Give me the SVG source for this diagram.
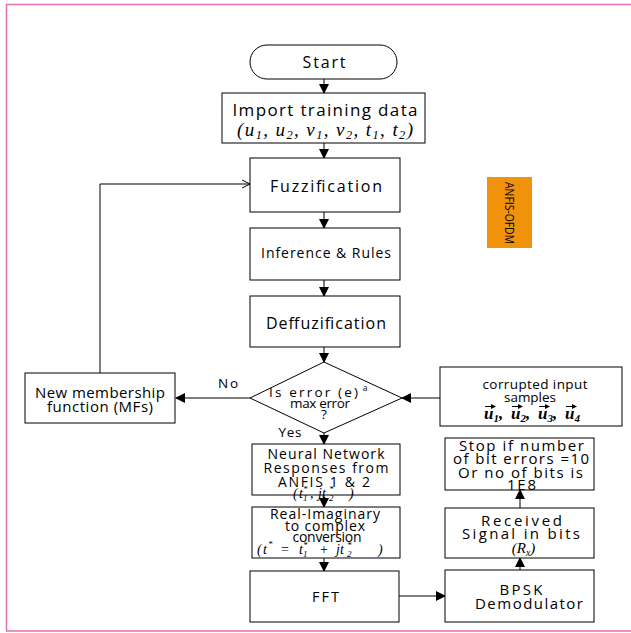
<svg xmlns="http://www.w3.org/2000/svg" width="631" height="633" viewBox="0 0 631 633">
<style>
.box{fill:#fff;stroke:#000;stroke-width:1}
.t{font-family:"Open Sans","Noto Sans",sans-serif;fill:#000;text-anchor:middle}
.m{font-family:"Liberation Serif",serif;font-style:italic;fill:#000;text-anchor:middle}
.ms{font-family:"Liberation Serif",serif;font-style:italic;fill:#000;text-anchor:start}
.s{font-size:65%}
.ln{fill:none;stroke:#000;stroke-width:1}
</style>
<defs>
<marker id="ah" markerWidth="10" markerHeight="10" refX="9" refY="5" orient="auto" markerUnits="userSpaceOnUse">
<path d="M0,0 L10,5 L0,10 z" fill="#000"/>
</marker>
<marker id="oh" markerWidth="10" markerHeight="10" refX="9" refY="5" orient="auto" markerUnits="userSpaceOnUse">
<path d="M1,1 L9,5 L1,9" fill="none" stroke="#000" stroke-width="1"/>
</marker>
<marker id="va" markerWidth="5" markerHeight="5" refX="4" refY="2.5" orient="auto" markerUnits="userSpaceOnUse">
<path d="M0,0 L5,2.5 L0,5 z" fill="#000"/>
</marker>
</defs>
<rect width="631" height="633" fill="#fff"/>
<path d="M631,4.5 H6.5 V631 H631" fill="none" stroke="#e070b0" stroke-width="1.5"/>

<g id="connectors">
<line class="ln" x1="324" y1="79" x2="324" y2="93" marker-end="url(#ah)"/>
<line class="ln" x1="324" y1="143" x2="324" y2="158" marker-end="url(#ah)"/>
<line class="ln" x1="324" y1="212" x2="324" y2="228" marker-end="url(#ah)"/>
<line class="ln" x1="324" y1="280" x2="324" y2="296" marker-end="url(#ah)"/>
<line class="ln" x1="324" y1="347" x2="324" y2="362" marker-end="url(#ah)"/>
<line class="ln" x1="250" y1="398" x2="176" y2="398" marker-end="url(#ah)"/>
<polyline class="ln" points="100,373 100,184 250,184" marker-end="url(#oh)"/>
<line class="ln" x1="440" y1="398" x2="402" y2="398" marker-end="url(#ah)"/>
<line class="ln" x1="324" y1="433" x2="324" y2="444" marker-end="url(#ah)"/>
<line class="ln" x1="324" y1="495" x2="324" y2="507" marker-end="url(#ah)"/>
<line class="ln" x1="324" y1="558" x2="324" y2="571" marker-end="url(#ah)"/>
<line class="ln" x1="399" y1="596" x2="445" y2="596" marker-end="url(#ah)"/>
<line class="ln" x1="520" y1="570" x2="520" y2="558" marker-end="url(#ah)"/>
<line class="ln" x1="520" y1="508" x2="520" y2="490" marker-end="url(#ah)"/>
</g>

<g id="start">
<rect class="box" x="250" y="45" width="147" height="34" rx="17"/>
<text class="t" x="324" y="68" font-size="16" textLength="43" lengthAdjust="spacing">Start</text>
</g>
<g id="import">
<rect class="box" x="222" y="93" width="203" height="50"/>
<text class="t" x="325" y="116" font-size="17" textLength="185" lengthAdjust="spacing">Import training data</text>
<text class="m" x="325" y="136" font-size="19" textLength="176" lengthAdjust="spacing">(u<tspan class="s" dy="3">1</tspan><tspan dy="-3">, u</tspan><tspan class="s" dy="3">2</tspan><tspan dy="-3">, v</tspan><tspan class="s" dy="3">1</tspan><tspan dy="-3">, v</tspan><tspan class="s" dy="3">2</tspan><tspan dy="-3">, t</tspan><tspan class="s" dy="3">1</tspan><tspan dy="-3">, t</tspan><tspan class="s" dy="3">2</tspan><tspan dy="-3">)</tspan></text>
</g>
<g id="fuzz">
<rect class="box" x="250" y="158" width="150" height="54"/>
<text class="t" x="326" y="191.5" font-size="16" textLength="112" lengthAdjust="spacing">Fuzzification</text>
</g>
<g id="infer">
<rect class="box" x="250" y="228" width="150" height="52"/>
<text class="t" x="326" y="258" font-size="14" textLength="130" lengthAdjust="spacing">Inference &amp; Rules</text>
</g>
<g id="defuzz">
<rect class="box" x="250" y="296" width="150" height="51"/>
<text class="t" x="326" y="328.5" font-size="16" textLength="120" lengthAdjust="spacing">Deffuzification</text>
</g>
<g id="anfis">
<rect x="487" y="177" width="45" height="71" fill="#f0920c"/>
<text class="t" transform="translate(505,213) rotate(90)" x="0" y="0" font-size="13.5" textLength="62" lengthAdjust="spacingAndGlyphs">ANFIS-OFDM</text>
</g>
<g id="decision">
<polygon class="box" points="324,362 402,398 324,433 250,398"/>
<text class="t" x="313.5" y="397" font-size="13.5" textLength="89" lengthAdjust="spacing">Is error (e)</text>
<text class="t" x="365" y="391" font-size="8.5">a</text>
<text class="t" x="320" y="408" font-size="13.5" textLength="60" lengthAdjust="spacing">max error</text>
<text class="t" x="324" y="419" font-size="13.5">?</text>
</g>
<g id="labels">
<text class="t" x="290" y="437" font-size="13.5" textLength="23" lengthAdjust="spacing">Yes</text>
<text class="t" x="228" y="388" font-size="13.5" textLength="20" lengthAdjust="spacing">No</text>
</g>
<g id="newmf">
<rect class="box" x="25" y="373" width="150" height="50"/>
<text class="t" x="100" y="397.5" font-size="15" textLength="130" lengthAdjust="spacing">New membership</text>
<text class="t" x="100" y="411.5" font-size="15" textLength="106" lengthAdjust="spacing">function (MFs)</text>
</g>
<g id="corrupt">
<rect class="box" x="440" y="367" width="182" height="59"/>
<text class="t" x="535" y="389" font-size="13.5" textLength="105" lengthAdjust="spacing">corrupted input</text>
<text class="t" x="530" y="402" font-size="13.5" textLength="52" lengthAdjust="spacing">samples</text>
<text class="ms" font-size="17" font-weight="bold"><tspan x="484" y="419">u</tspan><tspan class="s" dy="3">1</tspan><tspan dy="-3">,</tspan><tspan x="511" y="419">u</tspan><tspan class="s" dy="3">2</tspan><tspan dy="-3">,</tspan><tspan x="538" y="419">u</tspan><tspan class="s" dy="3">3</tspan><tspan dy="-3">,</tspan><tspan x="565" y="419">u</tspan><tspan class="s" dy="3">4</tspan></text>
<line class="ln" x1="485" y1="406.5" x2="495" y2="406.5" marker-end="url(#va)"/>
<line class="ln" x1="512" y1="406.5" x2="522" y2="406.5" marker-end="url(#va)"/>
<line class="ln" x1="539" y1="406.5" x2="549" y2="406.5" marker-end="url(#va)"/>
<line class="ln" x1="566" y1="406.5" x2="576" y2="406.5" marker-end="url(#va)"/>
</g>
<g id="neural">
<rect class="box" x="252" y="444" width="148" height="51"/>
<text class="t" x="326" y="459" font-size="14" textLength="117" lengthAdjust="spacing">Neural Network</text>
<text class="t" x="326" y="473" font-size="14" textLength="125" lengthAdjust="spacing">Responses from</text>
<text class="t" x="324" y="487" font-size="14" textLength="92" lengthAdjust="spacing">ANFIS 1 &amp; 2</text>
<text class="ms" font-size="14"><tspan x="293" y="498">(</tspan><tspan x="299" y="498">t</tspan><tspan x="303" y="501" font-size="9">1</tspan><tspan x="303" y="492" font-size="9">*</tspan><tspan x="310" y="498">,</tspan><tspan x="318" y="498">jt</tspan><tspan x="329" y="501" font-size="9">2</tspan><tspan x="329" y="492" font-size="9">*</tspan><tspan x="349" y="498">)</tspan></text>
</g>
<g id="realimag">
<rect class="box" x="252" y="507" width="148" height="51"/>
<text class="t" x="325" y="519" font-size="14" textLength="110" lengthAdjust="spacing">Real-Imaginary</text>
<text class="t" x="325" y="531" font-size="14" textLength="80" lengthAdjust="spacing">to complex</text>
<text class="t" x="327" y="541.5" font-size="14" textLength="69" lengthAdjust="spacing">conversion</text>
<text class="ms" font-size="14"><tspan x="257" y="554">(</tspan><tspan x="263" y="554">t</tspan><tspan x="268" y="547" font-size="9">*</tspan><tspan x="281" y="554" font-style="normal">=</tspan><tspan x="299" y="554">t</tspan><tspan x="303" y="557" font-size="9">1</tspan><tspan x="303" y="548" font-size="9">*</tspan><tspan x="320" y="554" font-style="normal">+</tspan><tspan x="336" y="554">jt</tspan><tspan x="347" y="557" font-size="9">2</tspan><tspan x="347" y="548" font-size="9">*</tspan><tspan x="378" y="554">)</tspan></text>
</g>
<g id="fft">
<rect class="box" x="250" y="571" width="149" height="51"/>
<text class="t" x="325.5" y="601.5" font-size="14.5" textLength="27" lengthAdjust="spacing">FFT</text>
</g>
<g id="bpsk">
<rect class="box" x="445" y="570" width="149" height="52"/>
<text class="t" x="521" y="594.5" font-size="15" textLength="43" lengthAdjust="spacing">BPSK</text>
<text class="t" x="529" y="608.5" font-size="15" textLength="108" lengthAdjust="spacing">Demodulator</text>
</g>
<g id="received">
<rect class="box" x="445" y="508" width="149" height="50"/>
<text class="t" x="521.5" y="525.5" font-size="15" textLength="81" lengthAdjust="spacing">Received</text>
<text class="t" x="521" y="539" font-size="15" textLength="118" lengthAdjust="spacing">Signal in bits</text>
<text class="m" x="523.5" y="553" font-size="15">(R<tspan class="s" dy="3">x</tspan><tspan dy="-3">)</tspan></text>
</g>
<g id="stop">
<rect class="box" x="445" y="438" width="149" height="52"/>
<text class="t" x="521.5" y="450.5" font-size="15" textLength="125" lengthAdjust="spacing">Stop if number</text>
<text class="t" x="521" y="463.5" font-size="15" textLength="136" lengthAdjust="spacing">of bit errors =10</text>
<text class="t" x="520.5" y="477.5" font-size="15" textLength="125" lengthAdjust="spacing">Or no of bits is</text>
<text class="t" x="521.5" y="490" font-size="15" textLength="29" lengthAdjust="spacing">1E8</text>
</g>
</svg>
